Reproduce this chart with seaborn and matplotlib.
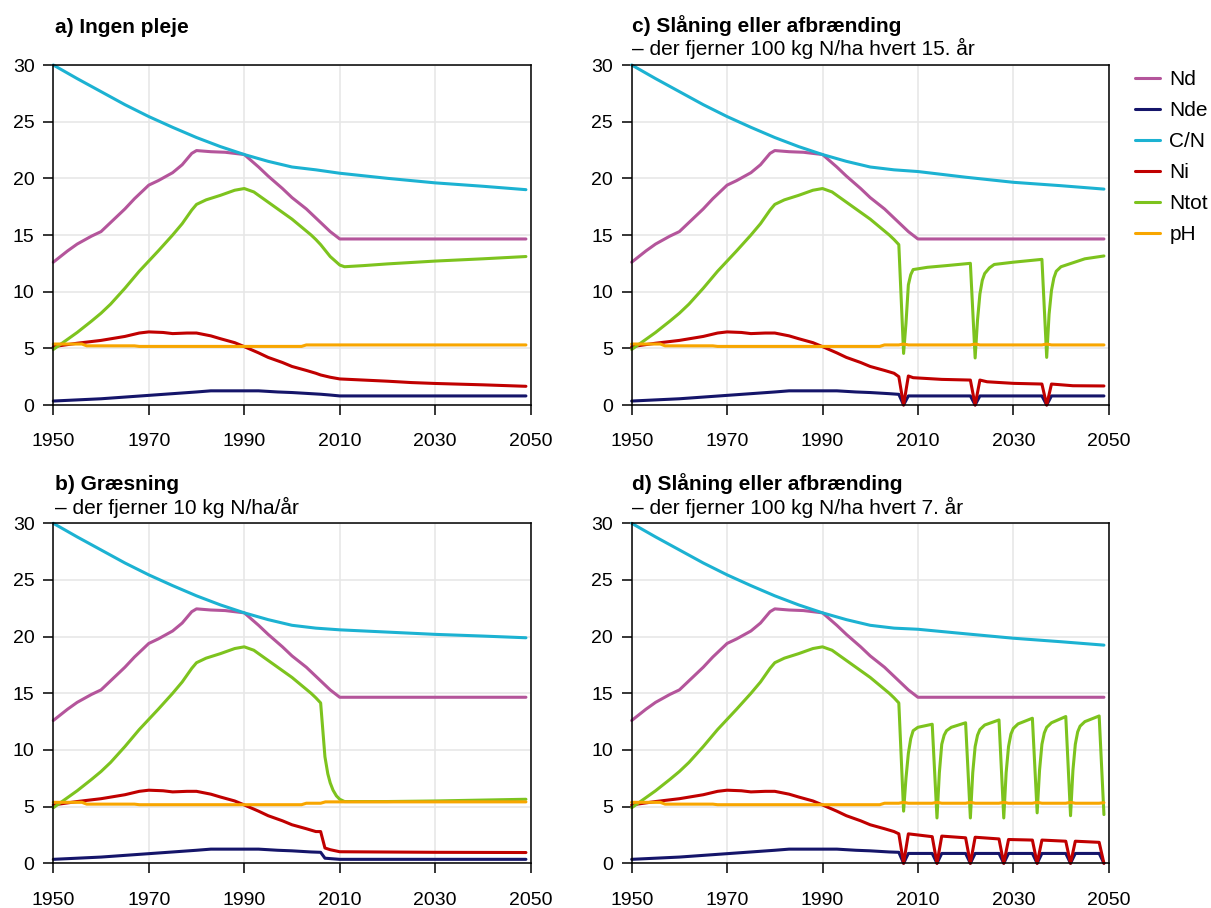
import matplotlib
matplotlib.use("Agg")
import matplotlib.pyplot as plt
from matplotlib.lines import Line2D
import numpy as np
import pandas as pd
import seaborn as sns

# ---------------- data ----------------
SERIES = ["Nd", "Nde", "C/N", "Ni", "Ntot", "pH"]
COLORS = ["#b4559b", "#15156a", "#1cb2d2", "#c00000", "#7dc31e", "#f8a600"]

# common history (identical in all four panels)
ND_BASE_YR = [1950, 1953, 1955, 1958, 1960, 1963, 1965, 1967, 1970, 1972, 1975, 1977, 1979, 1980, 1983, 1986, 1990, 1993, 1995, 1998, 2000, 2003, 2005]
ND_BASE = [12.6, 13.6, 14.2, 14.9, 15.3, 16.5, 17.3, 18.2, 19.4, 19.8, 20.5, 21.2, 22.2, 22.45, 22.35, 22.3, 22.1, 21.0, 20.2, 19.1, 18.3, 17.3, 16.5]
CN_BASE_YR = [1950, 1955, 1960, 1965, 1970, 1975, 1980, 1985, 1990, 1995, 2000, 2005]
CN_BASE = [30.0, 28.8, 27.65, 26.5, 25.45, 24.5, 23.6, 22.8, 22.1, 21.5, 21.0, 20.75]
NTOT_BASE_YR = [1950, 1952, 1955, 1958, 1960, 1962, 1965, 1968, 1970, 1972, 1975, 1977, 1979, 1980, 1982, 1985, 1988, 1990, 1992, 1994, 1996, 1998, 2000, 2002, 2004, 2005, 2006]
NTOT_BASE = [4.9, 5.5, 6.4, 7.4, 8.1, 8.9, 10.3, 11.8, 12.7, 13.6, 15.0, 16.0, 17.2, 17.7, 18.1, 18.5, 18.95, 19.1, 18.8, 18.2, 17.6, 17.0, 16.4, 15.7, 15.0, 14.6, 14.15]
NI_BASE_YR = [1950, 1955, 1960, 1965, 1968, 1970, 1973, 1975, 1978, 1980, 1983, 1985, 1988, 1990, 1993, 1995, 1998, 2000, 2003, 2005]
NI_BASE = [5.15, 5.45, 5.7, 6.05, 6.35, 6.45, 6.4, 6.3, 6.35, 6.35, 6.1, 5.85, 5.5, 5.15, 4.6, 4.2, 3.75, 3.4, 3.05, 2.8]
NDE_BASE_YR = [1950, 1955, 1960, 1965, 1970, 1975, 1980, 1983, 1993, 1997, 2000, 2004]
NDE_BASE = [0.35, 0.45, 0.55, 0.7, 0.85, 1.0, 1.15, 1.25, 1.25, 1.15, 1.1, 1.0]
PH_BASE_YR = [1950, 1956, 1957, 1967, 1968, 2002, 2003]
PH_BASE = [5.38, 5.38, 5.22, 5.22, 5.17, 5.17, 5.3]

ND_TAIL_YR = [2008, 2010, 2049]
ND_TAIL = [15.3, 14.65, 14.65]

# a) Ingen pleje
A_CN_YR = [2010, 2020, 2030, 2040, 2049]
A_CN = [20.45, 20.0, 19.6, 19.3, 19.0]
A_NTOT_YR = [2008, 2010, 2011, 2015, 2020, 2030, 2040, 2049]
A_NTOT = [13.1, 12.35, 12.2, 12.3, 12.45, 12.7, 12.9, 13.1]
A_NI_YR = [2006, 2008, 2010, 2015, 2020, 2025, 2030, 2040, 2049]
A_NI = [2.65, 2.45, 2.3, 2.2, 2.1, 1.98, 1.9, 1.78, 1.65]
A_NDE_YR = [2006, 2008, 2010, 2049]
A_NDE = [0.95, 0.88, 0.8, 0.8]
A_PH_YR = [2049]
A_PH = [5.3]

# b) Græsning
B_CN_YR = [2010, 2020, 2030, 2040, 2049]
B_CN = [20.6, 20.4, 20.2, 20.05, 19.9]
B_NTOT_YR = [2006.9, 2007.5, 2008, 2008.6, 2009.3, 2010, 2011, 2020, 2030, 2049]
B_NTOT = [9.4, 7.9, 7.1, 6.45, 5.95, 5.65, 5.45, 5.45, 5.5, 5.65]
B_NI_YR = [2006, 2006.9, 2008, 2010, 2030, 2049]
B_NI = [2.8, 1.35, 1.2, 1.02, 0.97, 0.95]
B_NDE_YR = [2006, 2006.9, 2010, 2049]
B_NDE = [0.97, 0.45, 0.35, 0.35]
B_PH_YR = [2006, 2007, 2049]
B_PH = [5.3, 5.42, 5.42]

# c) Slåning eller afbrænding, hvert 15. år
C_CN_YR = [2010, 2020, 2030, 2040, 2049]
C_CN = [20.6, 20.1, 19.65, 19.35, 19.05]
C_NTOT_YR = [2007, 2007.5, 2008, 2008.5, 2009, 2012, 2016, 2021,
             2022, 2022.5, 2023, 2023.5, 2024, 2025, 2026, 2030, 2036,
             2037, 2037.5, 2038, 2038.5, 2039, 2040, 2045, 2049]
C_NTOT = [4.55, 7.2, 10.6, 11.5, 11.95, 12.15, 12.3, 12.5,
          4.15, 7.5, 9.8, 11.0, 11.6, 12.1, 12.4, 12.6, 12.85,
          4.2, 8.0, 10.1, 11.2, 11.8, 12.2, 12.9, 13.15]
C_NI_YR = [2006, 2007, 2008, 2009, 2015, 2021, 2022, 2023, 2024.5, 2030, 2036, 2037, 2038, 2042.5, 2049]
C_NI = [2.5, 0.0, 2.56, 2.41, 2.26, 2.2, 0.0, 2.2, 2.05, 1.91, 1.85, 0.0, 1.85, 1.7, 1.68]
C_NDE_YR = [2006, 2007, 2008, 2021, 2022, 2023, 2036, 2037, 2038, 2049]
C_NDE = [0.94, 0.0, 0.8, 0.8, 0.0, 0.8, 0.8, 0.0, 0.8, 0.8]
C_PH_YR = [2006, 2007, 2008, 2021, 2022, 2023, 2036, 2037, 2038, 2049]
C_PH = [5.3, 5.38, 5.3, 5.3, 5.38, 5.3, 5.3, 5.38, 5.3, 5.3]

# d) Slåning eller afbrænding, hvert 7. år
D_CN_YR = [2010, 2020, 2030, 2040, 2049]
D_CN = [20.65, 20.25, 19.86, 19.55, 19.25]
D_NTOT_YR = [2007, 2007.5, 2008, 2008.5, 2009, 2010, 2013,
             2014, 2014.5, 2015, 2015.5, 2016, 2017, 2020,
             2021, 2021.5, 2022, 2022.5, 2023, 2024, 2027,
             2028, 2028.5, 2029, 2029.5, 2030, 2031, 2034,
             2035, 2035.5, 2036, 2036.5, 2037, 2038, 2041,
             2042, 2042.5, 2043, 2043.5, 2044, 2045, 2048,
             2049]
D_NTOT = [4.6, 7.5, 9.7, 11.0, 11.7, 12.0, 12.27,
          4.0, 8.0, 10.5, 11.3, 11.7, 12.0, 12.4,
          4.0, 8.0, 10.3, 11.3, 11.8, 12.2, 12.65,
          4.0, 8.0, 10.3, 11.4, 11.9, 12.3, 12.8,
          4.45, 8.2, 10.5, 11.5, 12.0, 12.4, 12.95,
          4.2, 8.2, 10.5, 11.6, 12.1, 12.5, 13.0,
          4.3]
D_NI_YR = [2006, 2007, 2008, 2013, 2014, 2015, 2020, 2021, 2022, 2027, 2028, 2029, 2034, 2035, 2036, 2041, 2042, 2043, 2048, 2049]
D_NI = [2.6, 0.0, 2.6, 2.35, 0.0, 2.4, 2.25, 0.0, 2.3, 2.15, 0.0, 2.1, 2.05, 0.0, 2.05, 1.95, 0.0, 1.95, 1.85, 0.0]
D_NDE_YR = [2006, 2007, 2008, 2013, 2014, 2015, 2020, 2021, 2022, 2027, 2028, 2029, 2034, 2035, 2036, 2041, 2042, 2043, 2048, 2049]
D_NDE = [0.97, 0.0, 0.87, 0.87, 0.0, 0.87, 0.87, 0.0, 0.87, 0.87, 0.0, 0.87, 0.87, 0.0, 0.87, 0.87, 0.0, 0.87, 0.87, 0.0]
D_PH_YR = [2006, 2007, 2008, 2013, 2014, 2015, 2020, 2021, 2022, 2027, 2028, 2029, 2034, 2035, 2036, 2041, 2042, 2043, 2048, 2049]
D_PH = [5.3, 5.38, 5.3, 5.3, 5.38, 5.3, 5.3, 5.38, 5.3, 5.3, 5.38, 5.3, 5.3, 5.38, 5.3, 5.3, 5.38, 5.3, 5.3, 5.35]

TITLES = ["a) Ingen pleje", "b) Græsning", "c) Slåning eller afbrænding", "d) Slåning eller afbrænding"]
SUBTITLES = ["", "– der fjerner 10 kg N/ha/år", "– der fjerner 100 kg N/ha hvert 15. år", "– der fjerner 100 kg N/ha hvert 7. år"]
X_TICKS = [1950, 1970, 1990, 2010, 2030, 2050]
Y_TICKS = [0, 5, 10, 15, 20, 25, 30]


def panel_frame(cn, ntot, ni, nde, ph):
    parts = {
        "Nd": (ND_BASE_YR + ND_TAIL_YR, ND_BASE + ND_TAIL),
        "Nde": (NDE_BASE_YR + nde[0], NDE_BASE + nde[1]),
        "C/N": (CN_BASE_YR + cn[0], CN_BASE + cn[1]),
        "Ni": (NI_BASE_YR + ni[0], NI_BASE + ni[1]),
        "Ntot": (NTOT_BASE_YR + ntot[0], NTOT_BASE + ntot[1]),
        "pH": (PH_BASE_YR + ph[0], PH_BASE + ph[1]),
    }
    frames = []
    for name in SERIES:
        yrs, vals = parts[name]
        frames.append(pd.DataFrame({"year": yrs, "value": vals, "serie": name}))
    return pd.concat(frames, ignore_index=True)


DF_A = panel_frame((A_CN_YR, A_CN), (A_NTOT_YR, A_NTOT), (A_NI_YR, A_NI), (A_NDE_YR, A_NDE), (A_PH_YR, A_PH))
DF_B = panel_frame((B_CN_YR, B_CN), (B_NTOT_YR, B_NTOT), (B_NI_YR, B_NI), (B_NDE_YR, B_NDE), (B_PH_YR, B_PH))
DF_C = panel_frame((C_CN_YR, C_CN), (C_NTOT_YR, C_NTOT), (C_NI_YR, C_NI), (C_NDE_YR, C_NDE), (C_PH_YR, C_PH))
DF_D = panel_frame((D_CN_YR, D_CN), (D_NTOT_YR, D_NTOT), (D_NI_YR, D_NI), (D_NDE_YR, D_NDE), (D_PH_YR, D_PH))

# ---------------- styling ----------------
sns.set_theme(style="white")
plt.rcParams["font.family"] = ["Liberation Sans", "DejaVu Sans"]
plt.rcParams["text.color"] = "black"
plt.rcParams["xtick.color"] = "black"
plt.rcParams["ytick.color"] = "black"

W, H = 1211, 908
fig = plt.figure(figsize=(W / 100, H / 100), dpi=100)
palette = dict(zip(SERIES, COLORS))


def px_axes(left, top, right, bottom):
    return fig.add_axes([left / W, 1 - bottom / H, (right - left) / W, (bottom - top) / H])


ax_a = px_axes(53.3, 65, 530.7, 405)
ax_b = px_axes(53.3, 523.3, 530.7, 863.3)
ax_c = px_axes(631.7, 65, 1108.7, 405)
ax_d = px_axes(631.7, 523.3, 1108.7, 863.3)

for ax, df in [(ax_a, DF_A), (ax_b, DF_B), (ax_c, DF_C), (ax_d, DF_D)]:
    sns.lineplot(data=df, x="year", y="value", hue="serie", hue_order=SERIES,
                 palette=palette, estimator=None, sort=False, legend=False,
                 linewidth=2.2, ax=ax, clip_on=False)
    ax.set_xlim(1950, 2050)
    ax.set_ylim(0, 30)
    ax.set_xticks(X_TICKS)
    ax.set_yticks(Y_TICKS)
    ax.set_xlabel("")
    ax.set_ylabel("")
    ax.grid(True, color="#e6e6e6", linewidth=1.1)
    ax.set_axisbelow(True)
    for s in ax.spines.values():
        s.set_color("black")
        s.set_linewidth(1.1)
    ax.tick_params(axis="both", which="major", direction="out", length=7.5, width=1.1,
                   color="black", labelsize=14, labelcolor="black", bottom=True, left=True)
    ax.tick_params(axis="x", pad=13)
    ax.tick_params(axis="y", pad=6)

# titles
fig.text(54.7 / W, 1 - 33 / H, TITLES[0], fontsize=15, fontweight="bold", va="baseline", ha="left")
fig.text(55 / W, 1 - 490 / H, TITLES[1], fontsize=15, fontweight="bold", va="baseline", ha="left")
fig.text(55 / W, 1 - 514.3 / H, SUBTITLES[1], fontsize=15, va="baseline", ha="left")
fig.text(631.7 / W, 1 - 32.3 / H, TITLES[2], fontsize=15, fontweight="bold", va="baseline", ha="left")
fig.text(631.7 / W, 1 - 55 / H, SUBTITLES[2], fontsize=15, va="baseline", ha="left")
fig.text(631.7 / W, 1 - 490 / H, TITLES[3], fontsize=15, fontweight="bold", va="baseline", ha="left")
fig.text(631.7 / W, 1 - 514.3 / H, SUBTITLES[3], fontsize=15, va="baseline", ha="left")

handles = [Line2D([0], [0], color=c, lw=2.2) for c in COLORS]
fig.legend(handles, SERIES, loc="upper left", bbox_to_anchor=(1135 / W, 1 - 70 / H),
           frameon=False, fontsize=15, handlelength=1.2, handletextpad=0.45,
           labelspacing=0.58, borderpad=0, borderaxespad=0)

fig.savefig("out.png", dpi=100)
